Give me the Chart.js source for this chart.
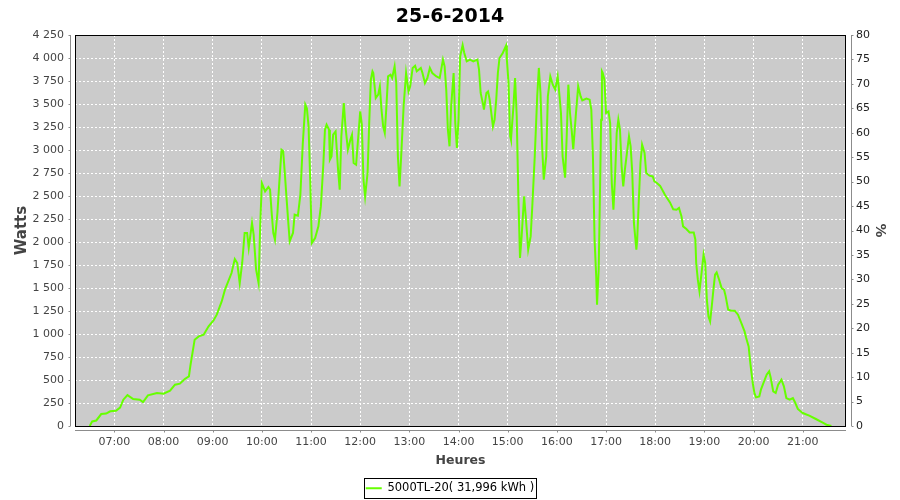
<!DOCTYPE html>
<html>
<head>
<meta charset="utf-8">
<script src="https://cdn.jsdelivr.net/npm/chart.js@4.4.1/dist/chart.umd.min.js"></script>
<style>
  html, body { margin: 0; padding: 0; background: #ffffff; }
  #wrap { width: 900px; height: 500px; position: relative; }
</style>
</head>
<body>
<div id="wrap"><canvas id="c" width="900" height="500"></canvas></div>
<script>
// ---- Data ----
const chartTitle = "25-6-2014";
const seriesLabel = "5000TL-20( 31,996 kWh )";
const xTitle = "Heures";
const yTitle = "Watts";
const y2Title = "%";
const hourTicks = ["07:00","08:00","09:00","10:00","11:00","12:00","13:00","14:00","15:00","16:00","17:00","18:00","19:00","20:00","21:00"];
const xRange = ["06:12", "21:52.8"];
const wattRange = [0, 4250, 250];
const percentRange = [0, 80, 5];

const times = [
 "06:30","06:33","06:38","06:44","06:50","06:55","07:02","07:07","07:11","07:16",
 "07:23","07:31","07:35","07:41","07:52","08:00","08:08","08:14","08:20","08:26",
 "08:31","08:33","08:38","08:43","08:49","08:55","09:01","09:05","09:11","09:15",
 "09:19","09:23","09:27","09:30","09:33","09:36","09:39","09:42","09:44","09:48",
 "09:50","09:53","09:56","09:58","10:00","10:04","10:08","10:10","10:12","10:14",
 "10:16","10:19","10:21","10:24","10:26","10:28","10:30","10:32","10:34","10:38",
 "10:40","10:44","10:47","10:50","10:53","10:55","10:57","10:59","11:01","11:05",
 "11:09","11:12","11:15","11:17","11:19","11:22","11:23","11:25","11:27","11:30",
 "11:33","11:35","11:37","11:40","11:42","11:45","11:48","11:50","11:52","11:55",
 "11:58","12:00","12:02","12:04","12:06","12:09","12:11","12:13","12:15","12:16",
 "12:19","12:22","12:24","12:26","12:28","12:30","12:32","12:34","12:37","12:39",
 "12:42","12:44","12:46","12:48","12:50","12:53","12:56","12:59","13:01","13:04",
 "13:07","13:09","13:14","13:16","13:19","13:22","13:25","13:28","13:33","13:37",
 "13:41","13:43","13:45","13:47","13:49","13:51","13:54","13:56","13:58","14:00",
 "14:02","14:05","14:07","14:10","14:14","14:18","14:23","14:25","14:27","14:30",
 "14:31","14:34","14:36","14:38","14:40","14:42","14:44","14:46","14:48","14:50",
 "14:54","14:58","14:59","15:01","15:03","15:04","15:07","15:09","15:11","15:13",
 "15:15","15:17","15:20","15:22","15:25","15:28","15:30","15:33","15:36","15:38",
 "15:40","15:42","15:44","15:47","15:49","15:52","15:55","15:58","16:01","16:02",
 "16:05","16:07","16:10","16:12","16:14","16:16","16:18","16:20","16:23","16:26",
 "16:29","16:31","16:36","16:40","16:42","16:44","16:46","16:48","16:49","16:51",
 "16:52","16:54","16:55","16:56","16:58","17:00","17:03","17:05","17:07","17:09",
 "17:11","17:13","17:15","17:17","17:19","17:21","17:23","17:26","17:28","17:30",
 "17:32","17:34","17:37","17:38","17:40","17:42","17:44","17:47","17:49","17:53",
 "17:57","17:59","18:02","18:06","18:12","18:18","18:22","18:26","18:29","18:32",
 "18:34","18:38","18:42","18:47","18:49","18:50","18:52","18:54","18:57","18:59",
 "19:01","19:03","19:05","19:07","19:09","19:11","19:13","19:15","19:18","19:21",
 "19:24","19:26","19:29","19:33","19:37","19:41","19:45","19:49","19:51","19:54",
 "19:56","19:59","20:01","20:03","20:07","20:09","20:12","20:16","20:19","20:21",
 "20:24","20:27","20:30","20:34","20:37","20:40","20:44","20:48","20:51","20:54",
 "21:00","21:08","21:16","21:25","21:29","21:35"
];
const watts = [
 0,50,60,130,135,160,165,200,286,335,
 293,286,260,333,359,351,384,449,460,511,
 539,666,938,974,992,1083,1148,1210,1354,1482,
 1572,1663,1815,1772,1550,1772,2098,2098,1935,2207,
 2080,1700,1554,2188,2641,2550,2598,2570,2315,2098,
 2025,2315,2604,3003,2990,2750,2496,2243,2007,2098,
 2297,2286,2514,3076,3493,3450,3257,2677,1989,2043,
 2170,2387,2840,3221,3275,3221,2894,2930,3166,3202,
 2786,2569,3148,3511,3257,3003,3112,3166,2859,2840,
 3185,3420,3275,2677,2496,2750,3293,3764,3855,3837,
 3565,3601,3692,3438,3257,3185,3474,3800,3819,3782,
 3909,3728,2931,2604,2931,3474,3837,3637,3692,3892,
 3916,3855,3892,3837,3728,3782,3892,3837,3800,3782,
 3982,3909,3656,3221,3040,3474,3837,3293,3022,3330,
 4018,4140,4055,3964,3982,3964,3982,3873,3620,3493,
 3438,3620,3637,3547,3402,3257,3330,3547,3837,4000,
 4055,4134,3982,3728,3148,3112,3474,3782,3366,2496,
 1826,2061,2496,2279,1916,2061,2387,2931,3583,3892,
 3620,3040,2677,2931,3583,3800,3710,3656,3800,3710,
 3402,2931,2700,3148,3710,3402,3221,3010,3366,3692,
 3583,3539,3560,3547,3438,2931,2025,1626,1318,1699,
 2207,3330,3855,3837,3764,3402,3420,3293,2641,2351,
 2713,3185,3330,3221,2822,2604,2786,3003,3148,3040,
 2750,2207,1916,2025,2460,2859,3058,2967,2750,2721,
 2713,2659,2641,2610,2510,2430,2355,2351,2370,2279,
 2170,2141,2104,2104,2025,1772,1590,1463,1699,1862,
 1772,1373,1191,1137,1300,1482,1645,1670,1590,1500,
 1482,1409,1264,1253,1253,1210,1120,1028,957,865,
 685,467,359,311,322,395,467,558,594,522,
 376,359,449,503,431,304,286,304,250,185,
 141,112,76,33,14,0
];

// ---- helpers ----
function toMin(s) { const p = s.split(":"); return parseInt(p[0], 10) * 60 + parseFloat(p[1]); }
function pad2(n) { return (n < 10 ? "0" : "") + n; }
function fmtWatts(v) {
  if (v >= 1000) return Math.floor(v / 1000) + " " + String(v % 1000).padStart(3, "0");
  return String(v);
}
const points = times.map((t, i) => ({ x: toMin(t), y: watts[i] }));
const hourValues = hourTicks.map(toMin);

const FONT = "'DejaVu Sans', 'Noto Sans', sans-serif";
const GREEN = "#66ff00";

const decorPlugin = {
  id: "decor",
  beforeDraw(chart) {
    const { ctx, chartArea: a } = chart;
    ctx.save();
    ctx.fillStyle = "#ffffff";
    ctx.fillRect(0, 0, chart.width, chart.height);
    ctx.fillStyle = "#cbcbcb";
    ctx.fillRect(a.left, a.top, a.right - a.left, a.bottom - a.top);
    ctx.restore();
  },
  afterDatasetsDraw(chart) {
    const { ctx, chartArea: a, scales } = chart;
    ctx.save();
    // plot outline
    ctx.strokeStyle = "#000000";
    ctx.lineWidth = 1;
    ctx.strokeRect(a.left + 0.5, a.top + 0.5, a.right - a.left - 1, a.bottom - a.top);
    // offset axis lines (grey) with small outside ticks
    ctx.strokeStyle = "#8c8c8c";
    ctx.beginPath();
    const lx = a.left - 4.5;
    ctx.moveTo(lx, a.top); ctx.lineTo(lx, a.bottom);
    scales.y.ticks.forEach(t => { const py = Math.round(scales.y.getPixelForValue(t.value)) + 0.5; ctx.moveTo(lx - 2, py); ctx.lineTo(lx, py); });
    const rx = a.right + 5.5;
    ctx.moveTo(rx, a.top); ctx.lineTo(rx, a.bottom);
    scales.y2.ticks.forEach(t => { const py = Math.round(scales.y2.getPixelForValue(t.value)) + 0.5; ctx.moveTo(rx, py); ctx.lineTo(rx + 2, py); });
    const by = a.bottom + 4.5;
    ctx.moveTo(a.left, by); ctx.lineTo(a.right, by);
    scales.x.ticks.forEach(t => { const px = Math.round(scales.x.getPixelForValue(t.value)) + 0.5; ctx.moveTo(px, by); ctx.lineTo(px, by + 2); });
    ctx.stroke();
    ctx.restore();
  },
  afterDraw(chart) {
    const lg = chart.legend;
    if (!lg || !lg.legendHitBoxes || !lg.legendHitBoxes.length) return;
    const hb = lg.legendHitBoxes[0];
    const { ctx } = chart;
    ctx.save();
    ctx.strokeStyle = "#000000";
    ctx.lineWidth = 1;
    ctx.strokeRect(Math.round(hb.left - 2) + 0.5, Math.round(hb.top - 5) + 0.5, Math.round(hb.width + 3), Math.round(hb.height + 8));
    ctx.restore();
  }
};

new Chart(document.getElementById("c"), {
  type: "line",
  data: {
    datasets: [{
      label: seriesLabel,
      data: points,
      borderColor: GREEN,
      backgroundColor: GREEN,
      borderWidth: 2,
      pointRadius: 0,
      tension: 0,
      fill: false,
      yAxisID: "y"
    }]
  },
  options: {
    responsive: false,
    animation: false,
    layout: { padding: { left: 0, right: 0, top: 0, bottom: -4 } },
    plugins: {
      tooltip: { enabled: false },
      title: {
        display: true,
        text: chartTitle,
        color: "#000000",
        font: { family: FONT, size: 19, weight: "bold", lineHeight: 1.2 },
        padding: { top: 6.1, bottom: 6.1 }
      },
      legend: {
        display: true,
        position: "bottom",
        labels: {
          color: "#000000",
          font: { family: FONT, size: 11.5 },
          boxWidth: 16,
          boxHeight: 2,
          padding: 10,
          generateLabels(chart) {
            const items = Chart.defaults.plugins.legend.labels.generateLabels(chart);
            items.forEach(it => { it.lineWidth = 0; it.fillStyle = GREEN; });
            return items;
          }
        }
      }
    },
    scales: {
      x: {
        type: "linear",
        position: "bottom",
        min: toMin(xRange[0]),
        max: toMin(xRange[1]),
        afterBuildTicks(scale) { scale.ticks = hourValues.map(v => ({ value: v })); },
        afterFit(scale) { scale.height = 46.5; },
        ticks: {
          color: "#444444",
          font: { family: FONT, size: 11 },
          padding: 10,
          maxRotation: 0,
          autoSkip: false,
          callback: v => pad2(Math.floor(v / 60)) + ":00"
        },
        grid: { color: "#ffffff", lineWidth: 1, drawTicks: false, drawOnChartArea: true },
        border: { display: false, dash: [2, 2] },
        title: {
          display: true,
          text: xTitle,
          color: "#444444",
          font: { family: FONT, size: 12.5, weight: "bold", lineHeight: 1.2 },
          padding: { top: 0, bottom: 4.5 }
        }
      },
      y: {
        type: "linear",
        position: "left",
        min: wattRange[0],
        max: wattRange[1],
        afterFit(scale) { scale.width = 75; },
        ticks: {
          stepSize: wattRange[2],
          color: "#444444",
          font: { family: FONT, size: 11 },
          padding: 11,
          autoSkip: false,
          callback: v => fmtWatts(v)
        },
        grid: { color: "#ffffff", lineWidth: 1, drawTicks: false, drawOnChartArea: true },
        border: { display: false, dash: [2, 2] },
        title: {
          display: true,
          text: yTitle,
          color: "#444444",
          font: { family: FONT, size: 15, weight: "bold", lineHeight: 1.2 },
          padding: { top: 12.7, bottom: 0 }
        }
      },
      y2: {
        type: "linear",
        position: "right",
        min: percentRange[0],
        max: percentRange[1],
        afterFit(scale) { scale.width = 54; },
        ticks: {
          stepSize: percentRange[2],
          color: "#222222",
          font: { family: FONT, size: 11 },
          padding: 10,
          autoSkip: false
        },
        grid: { display: false, drawTicks: false },
        border: { display: false },
        title: {
          display: true,
          text: y2Title,
          color: "#444444",
          font: { family: FONT, size: 14, weight: "bold", lineHeight: 1.2 },
          padding: { top: 11.6, bottom: 0 }
        }
      }
    }
  },
  plugins: [decorPlugin]
});
</script>
</body>
</html>
